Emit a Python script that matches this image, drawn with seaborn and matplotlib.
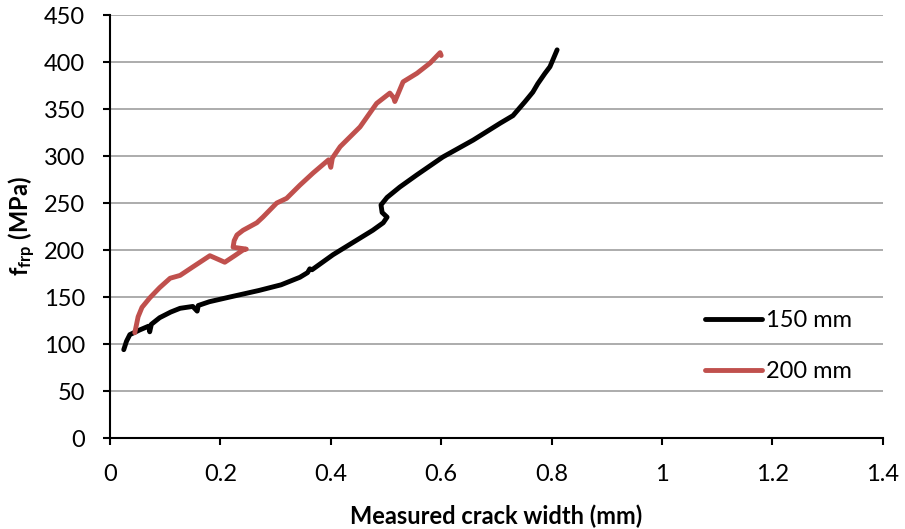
import matplotlib
matplotlib.use("Agg")
import matplotlib.pyplot as plt
import seaborn as sns
import pandas as pd

# 150 mm series
w150 = [0.025, 0.030, 0.036, 0.054, 0.070, 0.072, 0.075, 0.090, 0.110, 0.127, 0.150, 0.158, 0.160, 0.165,
        0.180, 0.217, 0.270, 0.310, 0.344, 0.358, 0.362, 0.366, 0.404, 0.440, 0.476, 0.495, 0.502,
        0.493, 0.491, 0.502, 0.525, 0.556, 0.603, 0.658, 0.707, 0.730, 0.752, 0.766, 0.775, 0.788, 0.797, 0.810]
f150 = [94, 103, 110, 115, 119, 113, 121, 128, 134, 138, 140, 135, 141, 142,
        145, 150, 157, 163, 171, 176, 180, 179, 195, 208, 221, 229, 235,
        240, 248, 256, 267, 280, 299, 317, 335, 343, 358, 368, 377, 388, 395, 413]

# 200 mm series
w200 = [0.045, 0.051, 0.058, 0.072, 0.090, 0.109, 0.127, 0.150, 0.181, 0.208, 0.226, 0.241, 0.247,
        0.223, 0.225, 0.230, 0.241, 0.266, 0.277, 0.302, 0.320, 0.344, 0.368, 0.396, 0.400, 0.403,
        0.417, 0.453, 0.483, 0.507, 0.514, 0.516, 0.531, 0.556, 0.580, 0.598, 0.600]
f200 = [112, 129, 139, 149, 160, 170, 173, 182, 194, 187, 194, 200, 201,
        203, 210, 216, 221, 229, 235, 250, 255, 269, 282, 296, 288, 298,
        310, 331, 356, 367, 362, 358, 379, 388, 399, 410, 407]

labels = ["150 mm", "200 mm"]
colors = ["#000000", "#C0504D"]

df = pd.concat([
    pd.DataFrame({"w": w150, "f": f150, "series": labels[0]}),
    pd.DataFrame({"w": w200, "f": f200, "series": labels[1]}),
])

sns.set_theme(style="white")
plt.rcParams["font.family"] = ["Lato", "DejaVu Sans"]
plt.rcParams["mathtext.fontset"] = "custom"
plt.rcParams["mathtext.rm"] = "Lato"
plt.rcParams["mathtext.bf"] = "Lato:bold"

fig = plt.figure(figsize=(9.05, 5.29), dpi=100)
ax = fig.add_axes([0.1215, 0.172, 0.854, 0.7995])

sns.lineplot(data=df, x="w", y="f", hue="series", palette=colors, sort=False,
             estimator=None, units="series", lw=3.5, ax=ax, legend=True,
             solid_capstyle="round", solid_joinstyle="round")

ax.set_xlim(0, 1.4)
ax.set_ylim(0, 450)
ax.set_xticks([0, 0.2, 0.4, 0.6, 0.8, 1.0, 1.2, 1.4])
ax.set_xticklabels(["0", "0.2", "0.4", "0.6", "0.8", "1", "1.2", "1.4"])
ax.set_yticks(range(0, 451, 50))
ax.yaxis.grid(True, color="#a6a6a6", lw=1.3)
ax.set_axisbelow(True)
for s in ["top", "right"]:
    ax.spines[s].set_visible(False)
for s in ["left", "bottom"]:
    ax.spines[s].set_color("black")
    ax.spines[s].set_linewidth(1.5)
ax.tick_params(axis="both", direction="out", length=5, width=1.5, color="black",
               labelsize=17, labelcolor="black", left=True, bottom=True)
ax.tick_params(axis="x", pad=14)
ax.tick_params(axis="y", pad=13)

ax.set_xlabel("Measured crack width (mm)", fontsize=17, fontweight="bold",
              labelpad=14, color="black")
ax.set_ylabel(r"$\mathbf{f_{frp}}$ (MPa)", fontsize=17, fontweight="bold",
              labelpad=4, color="black")

leg = ax.legend(loc="center left", bbox_to_anchor=(0.77, 0.2175), frameon=False,
                fontsize=17, handlelength=2.4, handletextpad=0.2, labelspacing=1.25,
                borderaxespad=0, borderpad=0)
for line in leg.get_lines():
    line.set_linewidth(3.5)
for t in leg.get_texts():
    t.set_color("black")

fig.savefig("out.png", dpi=100)
